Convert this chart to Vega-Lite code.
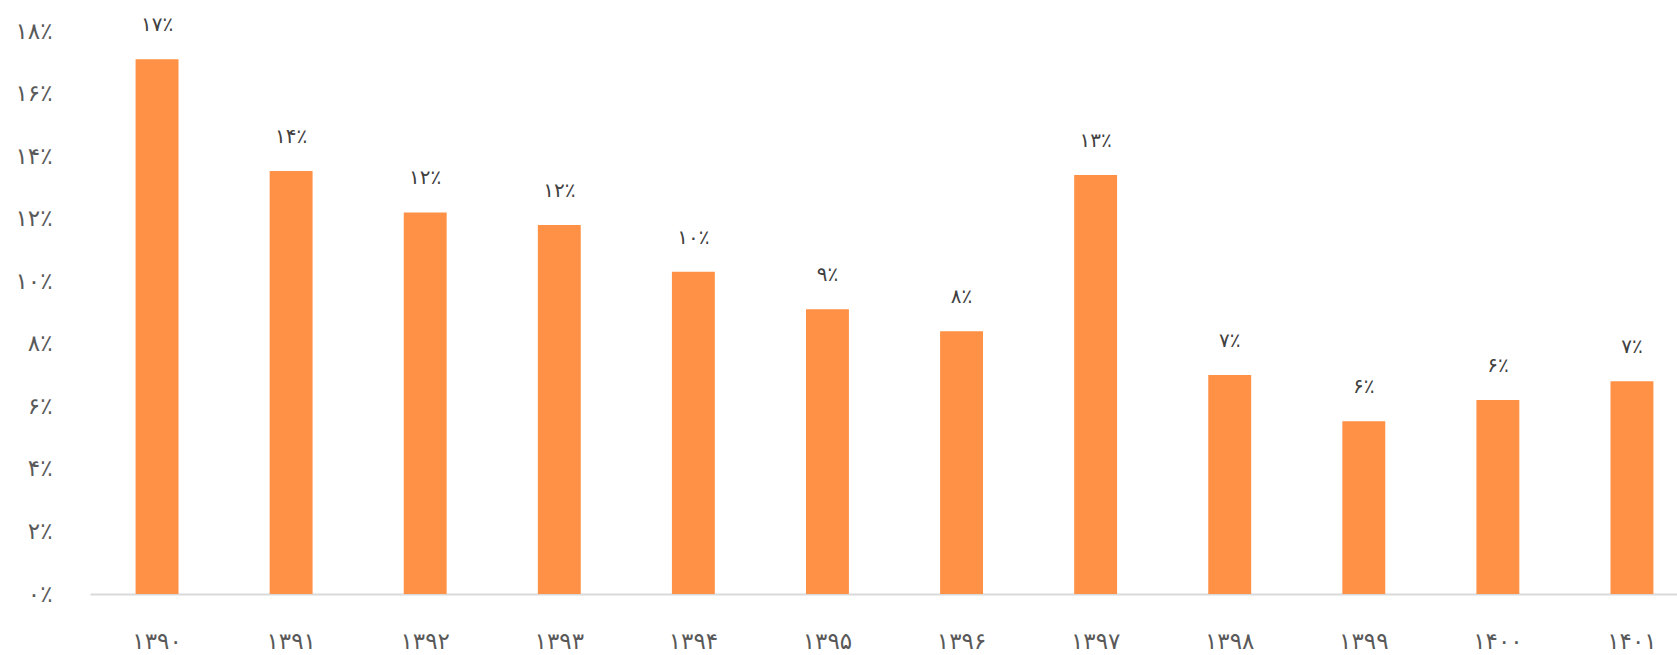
{
  "$schema": "https://vega.github.io/schema/vega-lite/v6.json",
  "width": 1609,
  "height": 563,
  "autosize": {"type": "none"},
  "padding": {"left": 90, "top": 31, "right": 0, "bottom": 62},
  "background": "#ffffff",
  "config": {
    "view": {"stroke": null},
    "font": "DejaVu Sans",
    "locale": {
      "number": {
        "decimal": ".",
        "thousands": ",",
        "grouping": [3],
        "currency": ["", ""],
        "numerals": ["۰", "۱", "۲", "۳", "۴", "۵", "۶", "۷", "۸", "۹"],
        "percent": "٪"
      }
    }
  },
  "data": {
    "values": [
      {"year": "۱۳۹۰", "rate": 0.171},
      {"year": "۱۳۹۱", "rate": 0.1352},
      {"year": "۱۳۹۲", "rate": 0.122},
      {"year": "۱۳۹۳", "rate": 0.118},
      {"year": "۱۳۹۴", "rate": 0.103},
      {"year": "۱۳۹۵", "rate": 0.091},
      {"year": "۱۳۹۶", "rate": 0.084},
      {"year": "۱۳۹۷", "rate": 0.134},
      {"year": "۱۳۹۸", "rate": 0.07},
      {"year": "۱۳۹۹", "rate": 0.0552},
      {"year": "۱۴۰۰", "rate": 0.062},
      {"year": "۱۴۰۱", "rate": 0.068}
    ]
  },
  "encoding": {
    "x": {
      "field": "year",
      "type": "ordinal",
      "sort": null,
      "scale": {"paddingInner": 0.68, "paddingOuter": 0.34},
      "axis": {
        "title": null,
        "labelAngle": 0,
        "ticks": false,
        "domainColor": "#d9d9d9",
        "domainWidth": 2,
        "labelFontSize": 23,
        "labelColor": "#595959",
        "labelPadding": 36
      }
    },
    "y": {
      "field": "rate",
      "type": "quantitative",
      "scale": {"domain": [0, 0.18], "nice": false},
      "axis": {
        "title": null,
        "values": [0, 0.02, 0.04, 0.06, 0.08, 0.1, 0.12, 0.14, 0.16, 0.18],
        "format": ".0%",
        "grid": false,
        "domain": false,
        "ticks": false,
        "labelFontSize": 23,
        "labelColor": "#595959",
        "labelPadding": 38
      }
    }
  },
  "layer": [
    {"mark": {"type": "bar", "color": "#ff9146"}},
    {
      "mark": {"type": "text", "dy": -34, "baseline": "middle", "fontSize": 20, "color": "#404040"},
      "encoding": {"text": {"field": "rate", "format": ".0%"}}
    }
  ]
}
